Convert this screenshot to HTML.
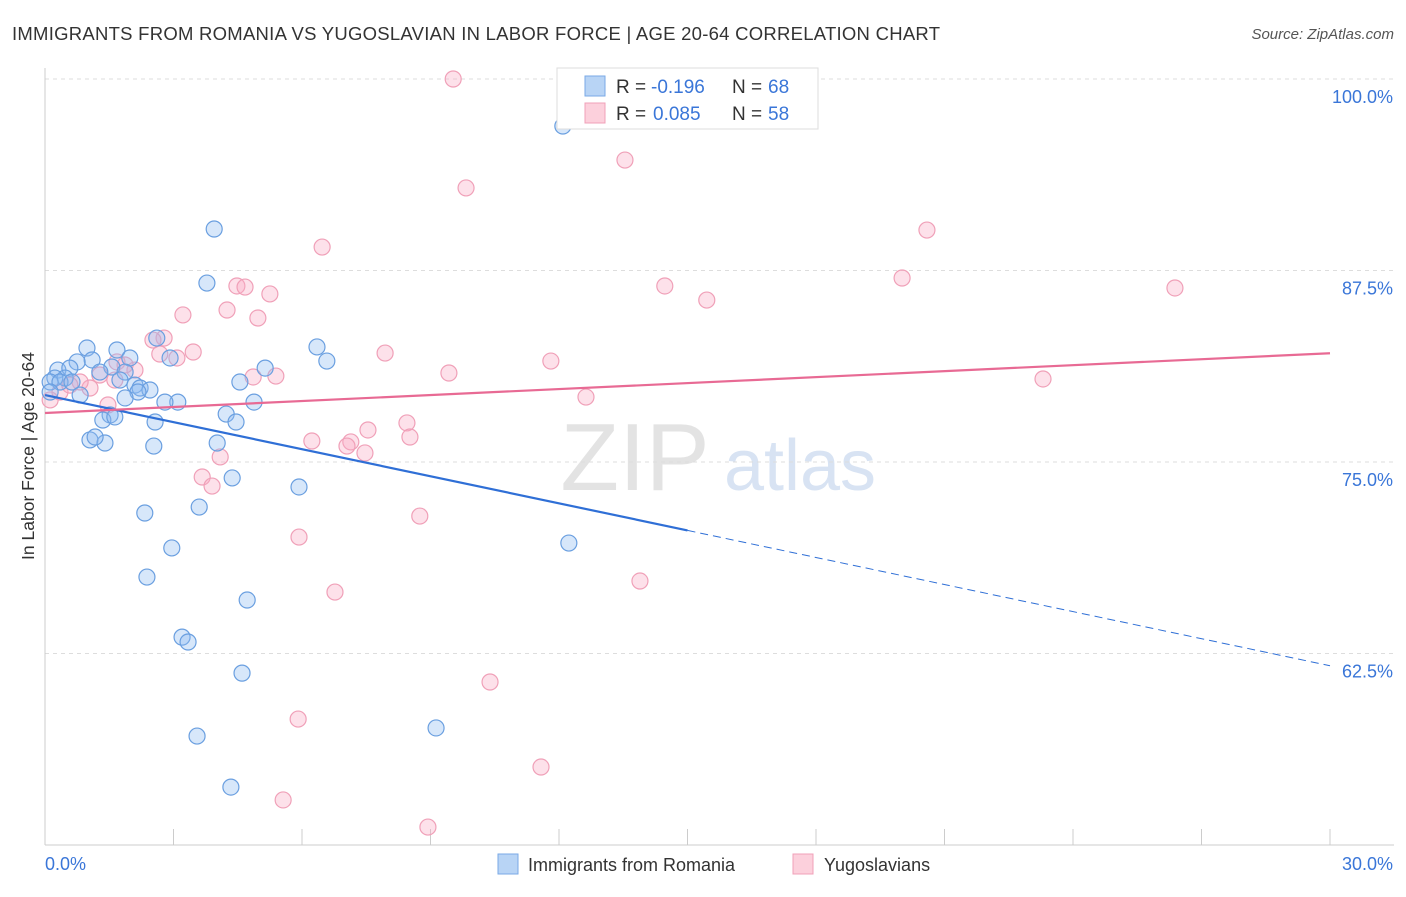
<!DOCTYPE html>
<html><head><meta charset="utf-8"><style>
body{margin:0;background:#fff;font-family:"Liberation Sans",sans-serif;}
svg text{font-family:"Liberation Sans",sans-serif;}
</style></head><body>
<svg id="chart" width="1406" height="892" viewBox="0 0 1406 892" xmlns="http://www.w3.org/2000/svg">
<text x="12" y="40" font-size="18.5" fill="#333" textLength="928" lengthAdjust="spacing">IMMIGRANTS FROM ROMANIA VS YUGOSLAVIAN IN LABOR FORCE | AGE 20-64 CORRELATION CHART</text>
<text x="1394" y="39" font-size="15" fill="#555" text-anchor="end" font-style="italic">Source: ZipAtlas.com</text>
<text transform="translate(34,456) rotate(-90)" font-size="17.5" fill="#333" text-anchor="middle">In Labor Force | Age 20-64</text>
<g>
<text x="635" y="490" font-size="96" font-family="Liberation Serif,serif" fill="#d8d8d8" text-anchor="middle" opacity="0.7">ZIP</text>
<text x="800" y="490" font-size="72" fill="#c8d8ee" text-anchor="middle" opacity="0.7">atlas</text>
</g>
<g id="grid"></g><g id="axes"></g><g id="pts"></g><g id="lines"></g>
<g>
<rect x="557" y="68" width="261" height="61" fill="#fff" stroke="#ddd"/>
<rect x="585" y="76" width="20" height="20" fill="#b8d4f5" stroke="#7aa9e6"/>
<rect x="585" y="103" width="20" height="20" fill="#fcd0dc" stroke="#f0a0b8"/>
<text x="616" y="93" font-size="19" fill="#333">R =</text>
<text x="651" y="93" font-size="19" fill="#3a76d8">-0.196</text>
<text x="732" y="93" font-size="19" fill="#333">N =</text>
<text x="768" y="93" font-size="19" fill="#3a76d8">68</text>
<text x="616" y="120" font-size="19" fill="#333">R =</text>
<text x="653" y="120" font-size="19" fill="#3a76d8">0.085</text>
<text x="732" y="120" font-size="19" fill="#333">N =</text>
<text x="768" y="120" font-size="19" fill="#3a76d8">58</text>
</g>
<g>
<rect x="498" y="854" width="20" height="20" fill="#b8d4f5" stroke="#7aa9e6"/>
<text x="528" y="871" font-size="18" fill="#333">Immigrants from Romania</text>
<rect x="793" y="854" width="20" height="20" fill="#fcd0dc" stroke="#f0a0b8"/>
<text x="824" y="871" font-size="18" fill="#333">Yugoslavians</text>
</g>
</svg>
<script>
const blueX=[12.09,3.95,3.78,6.35,6.58,5.14,4.55,4.88,3.10,4.23,4.46,2.57,4.02,2.54,4.37,5.93,3.60,2.33,2.96,2.38,4.72,3.20,3.34,4.60,3.55,4.34,9.13,12.23,0.98,1.68,1.10,0.75,1.98,1.56,0.30,0.58,1.28,1.87,0.47,0.23,0.12,0.35,0.63,1.75,2.10,2.22,2.45,2.17,0.82,0.12,2.92,2.61,1.52,1.35,1.63,1.05,1.40,1.17,2.80,1.87];
const blueY=[96.93,90.21,86.68,82.51,81.59,81.13,80.22,78.91,78.91,78.13,77.61,77.61,76.24,76.04,73.96,73.37,72.06,71.67,69.39,67.49,65.99,63.57,63.25,61.22,57.11,53.78,57.64,69.71,82.44,82.31,81.66,81.53,81.79,81.20,81.00,81.13,80.87,80.87,80.48,80.48,80.22,80.22,80.22,80.35,80.02,79.83,79.70,79.57,79.37,79.57,81.79,83.09,78.07,77.74,77.94,76.44,76.24,76.63,78.91,79.18];
const pinkX=[9.53,13.54,9.83,20.59,6.47,20.01,14.47,15.45,26.38,4.48,4.67,5.25,4.25,3.22,4.97,2.78,2.52,3.46,3.08,2.68,7.94,11.81,9.43,23.30,5.39,4.86,1.68,2.10,1.28,1.05,1.63,0.82,0.35,0.12,12.63,1.47,8.45,7.54,8.52,6.23,7.14,7.05,7.47,4.09,3.67,3.90,8.75,5.93,13.89,6.77,10.39,5.91,11.58,5.56,8.94,0.58,1.87];
const pinkY=[100,94.71,92.89,90.14,89.03,87.01,86.49,85.57,86.36,86.49,86.42,85.97,84.92,84.60,84.40,83.09,82.96,82.18,81.79,82.05,82.11,81.59,80.81,80.42,80.61,80.55,81.53,81.00,80.68,79.83,80.35,80.22,79.57,79.05,79.24,78.72,77.55,77.09,76.63,76.37,76.31,76.04,75.59,75.33,74.02,73.43,71.47,70.10,67.23,66.51,60.64,58.22,55.09,52.94,51.17,80.02,81.33];
const yTicks=[100,87.5,75,62.5];
const yTickLabels=["100.0%","87.5%","75.0%","62.5%"];
const xTickLabels=["0.0%","30.0%"];
const blueTrend=[79.37,61.7];
const pinkTrend=[78.2,82.1];
const X0=45,X1=1330,Y0=845,Y1=79;
const sx=v=>X0+(v/30)*(X1-X0);
const sy=v=>Y0-((v-50)/50)*(Y0-Y1);
const NS="http://www.w3.org/2000/svg";
function mk(p,t,a){const e=document.createElementNS(NS,t);for(const k in a)e.setAttribute(k,a[k]);p.appendChild(e);return e;}
const grid=document.getElementById('grid'),axes=document.getElementById('axes'),pts=document.getElementById('pts'),lines=document.getElementById('lines');
yTicks.forEach((t,i)=>{
 const g=mk(grid,'line',{x1:X0,x2:1394,y1:sy(t),y2:sy(t),stroke:'#ddd','stroke-dasharray':'4,4'});
 
 
 const l=mk(axes,'text',{x:1393,y:sy(t)+24,'font-size':18,fill:'#3a76d8','text-anchor':'end'});
 l.textContent=yTickLabels[i];
 
 
});
const ax=mk(axes,'line',{x1:X0,x2:1394,y1:Y0,y2:Y0,stroke:'#ccc'});


const ay=mk(axes,'line',{x1:X0,x2:X0,y1:68,y2:Y0,stroke:'#ccc'});


for(let i=0;i<=10;i++){const t=mk(axes,'line',{x1:sx(i*3),x2:sx(i*3),y1:Y0,y2:Y0-16,stroke:'#ccc'});
 
 }
const xl0=mk(axes,'text',{x:45,y:870,'font-size':18,fill:'#3a76d8'});xl0.textContent=xTickLabels[0];


const xl1=mk(axes,'text',{x:1393,y:870,'font-size':18,fill:'#3a76d8','text-anchor':'end'});xl1.textContent=xTickLabels[1];


pinkX.forEach((v,i)=>{const c=mk(pts,'circle',{cx:sx(v),cy:sy(pinkY[i]),r:8,fill:'rgba(248,170,195,0.35)',stroke:'#f0a0b8','stroke-width':1.2});
 
 });
blueX.forEach((v,i)=>{const c=mk(pts,'circle',{cx:sx(v),cy:sy(blueY[i]),r:8,fill:'rgba(140,185,240,0.35)',stroke:'#6a9fe0','stroke-width':1.2});
 
 });
const bm=blueTrend[0]+(blueTrend[1]-blueTrend[0])/2;
const b1=mk(lines,'line',{x1:sx(0),y1:sy(blueTrend[0]),x2:sx(15),y2:sy(bm),stroke:'#2f6fd6','stroke-width':2.2});


const b2=mk(lines,'line',{x1:sx(15),y1:sy(bm),x2:sx(30),y2:sy(blueTrend[1]),stroke:'#2f6fd6','stroke-width':1,'stroke-dasharray':'8,5'});


const p1=mk(lines,'line',{x1:sx(0),y1:sy(pinkTrend[0]),x2:sx(30),y2:sy(pinkTrend[1]),stroke:'#e86a94','stroke-width':2.2});


</script>
</body></html>
